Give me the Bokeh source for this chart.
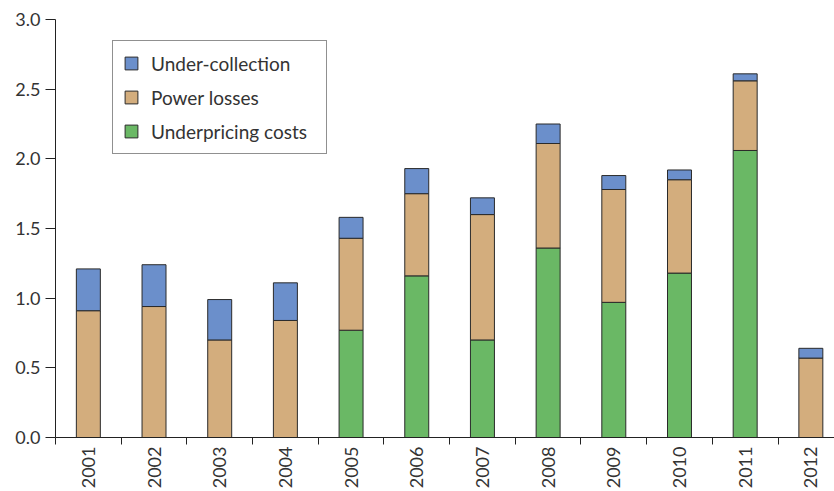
from bokeh.plotting import figure
from bokeh.models import Range1d, FixedTicker, Legend, LegendItem, ColumnDataSource
from bokeh.embed import file_html
from bokeh.resources import INLINE

years = ["2001", "2002", "2003", "2004", "2005", "2006", "2007", "2008", "2009", "2010", "2011", "2012"]
underpricing = [0.0, 0.0, 0.0, 0.0, 0.77, 1.16, 0.70, 1.36, 0.97, 1.18, 2.06, 0.0]
power_losses = [0.91, 0.94, 0.70, 0.84, 0.66, 0.59, 0.90, 0.75, 0.81, 0.67, 0.50, 0.57]
under_collection = [0.30, 0.30, 0.29, 0.27, 0.15, 0.18, 0.12, 0.14, 0.10, 0.07, 0.05, 0.07]
y_ticks = [0.0, 0.5, 1.0, 1.5, 2.0, 2.5, 3.0]

FONT = "Lato"
TEXT = "#333333"

xs = list(range(1, len(years) + 1))
src = ColumnDataSource(dict(x=xs, underpricing=underpricing, power=power_losses, under=under_collection))

p = figure(width=834, height=491, output_backend="svg", toolbar_location=None,
           x_range=Range1d(0.5, 12.36), y_range=Range1d(0, 3.0),
           min_border_left=55, min_border_top=19, min_border_right=0, min_border_bottom=0)
p.outline_line_color = None
p.xgrid.visible = False
p.ygrid.visible = False

colors = ["#6ab865", "#d3ad7d", "#6b8fcb"]
rs = p.vbar_stack(["underpricing", "power", "under"], x="x", width=0.365, source=src,
                  color=colors, line_color="#2a2a2a", line_width=1)

legend = Legend(items=[LegendItem(label="Under-collection", renderers=[rs[2]]),
                       LegendItem(label="Power losses", renderers=[rs[1]]),
                       LegendItem(label="Underpricing costs", renderers=[rs[0]])],
                location=(57, 283))
legend.border_line_color = "#222222"
legend.border_line_width = 1
legend.background_fill_alpha = 1
legend.glyph_width = 16
legend.glyph_height = 16
legend.label_height = 24
legend.label_width = 165
legend.spacing = 10
legend.padding = 10
legend.label_standoff = 12
legend.label_text_font = FONT
legend.label_text_font_size = "19px"
legend.label_text_color = TEXT
p.add_layout(legend, "center")

# y axis
ya = p.yaxis[0]
ya.ticker = FixedTicker(ticks=y_ticks, minor_ticks=[])
ya.major_label_overrides = {t: f"{t:.1f}" for t in y_ticks}
ya.major_tick_out = 10
ya.major_tick_in = 0
ya.major_label_standoff = 5
ya.major_label_text_font = FONT
ya.major_label_text_font_size = "18px"
ya.major_label_text_color = TEXT
ya.axis_line_color = "#222222"
ya.major_tick_line_color = "#222222"

# x axis: labels at bar centres, tick marks at category boundaries
xa = p.xaxis[0]
xa.ticker = FixedTicker(ticks=xs, minor_ticks=[x - 0.5 for x in xs] + [len(xs) + 0.5])
xa.major_label_overrides = {x: y for x, y in zip(xs, years)}
xa.major_tick_line_color = None
xa.major_tick_out = 0
xa.major_tick_in = 0
xa.minor_tick_out = 7
xa.minor_tick_in = 0
xa.minor_tick_line_color = "#222222"
xa.axis_line_color = "#222222"
xa.major_label_orientation = 1.5708
xa.major_label_standoff = 2
xa.major_label_text_font = FONT
xa.major_label_text_font_size = "18px"
xa.major_label_text_color = TEXT

open("out.html", "w").write(file_html(p, INLINE))
